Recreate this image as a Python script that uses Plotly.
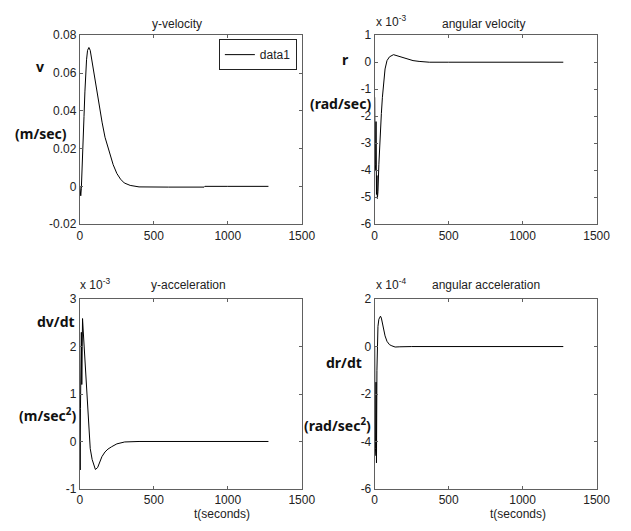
import plotly.graph_objects as go

W, H = 631, 531

# ---------------- data ----------------
# y-velocity v (m/sec)
v_t = [0, 3, 6, 10, 14, 18, 23, 28, 34, 39, 45, 52, 61, 70, 80, 92, 105, 120, 135, 150,
       170, 200, 225, 250, 275, 300, 340, 400, 450, 600, 840, 845, 1000, 1275]
v_val = [0, -0.0045, -0.005, -0.001, 0.01, 0.021, 0.03, 0.037, 0.05, 0.06, 0.067, 0.072,
         0.0735, 0.072, 0.067, 0.061, 0.055, 0.047, 0.04, 0.034, 0.026, 0.018, 0.0115,
         0.0068, 0.0038, 0.0018, 0.0005, -0.0003, -0.0004, -0.0004, -0.0004, 0.0, 0.0, 0.0]

# angular velocity r (x 10^-3 rad/sec)
r_t = [0, 3, 5, 7, 9, 12, 15, 18, 22, 28, 34, 39, 45, 52, 61, 70, 83, 100, 127, 160,
       193, 230, 259, 300, 369, 500, 1275]
r_val = [-1.3, -4.0, -1.9, -3.8, -2.2, -4.9, -4.2, -5.05, -4.8, -3.8, -3.0, -2.47, -1.9,
         -1.3, -0.66, -0.25, 0.06, 0.2, 0.28, 0.22, 0.16, 0.1, 0.06, 0.03, 0.0, 0.0, 0.0]

# y-acceleration dv/dt (x 10^-3 m/sec^2)
a_t = [0, 2, 4, 6, 8, 10, 13, 16, 18, 22, 28, 34, 39, 45, 52, 61, 70, 83, 95, 105, 120,
       135, 149, 170, 190, 215, 250, 303, 350, 400, 1275]
a_val = [0, -0.6, 0.7, 2.2, 0.8, 2.3, 1.2, 2.5, 2.59, 2.37, 2.03, 1.68, 1.39, 1.05, 0.66,
         0.16, -0.15, -0.38, -0.53, -0.59, -0.55, -0.44, -0.32, -0.22, -0.16, -0.11,
         -0.05, -0.01, 0.0, 0.0, 0.0]

# angular acceleration dr/dt (x 10^-4 rad/sec^2)
b_t = [0, 2, 4, 6, 9, 12, 15, 18, 22, 28, 34, 39, 45, 52, 61, 70, 83, 100, 116, 138, 170,
       250, 1275]
b_val = [0, -4.6, -3.2, -4.3, -1.5, -4.9, -1.0, 0.5, 0.85, 1.15, 1.25, 1.28, 1.2, 1.0, 0.7,
         0.45, 0.22, 0.08, 0.03, -0.02, -0.01, 0.0, 0.0]

x_ticks = [0, 500, 1000, 1500]
x_ticktext = ["0", "500", "1000", "1500"]
y1_ticks = [-0.02, 0, 0.02, 0.04, 0.06, 0.08]
y1_ticktext = ["-0.02", "0", "0.02", "0.04", "0.06", "0.08"]
y2_ticks = [-6, -5, -4, -3, -2, -1, 0, 1]
y2_ticktext = ["-6", "-5", "-4", "-3", "-2", "-1", "0", "1"]
y3_ticks = [-1, 0, 1, 2, 3]
y3_ticktext = ["-1", "0", "1", "2", "3"]
y4_ticks = [-6, -4, -2, 0, 2]
y4_ticktext = ["-6", "-4", "-2", "0", "2"]

titles = ["y-velocity", "angular velocity", "y-acceleration", "angular acceleration"]


def px(x):
    return x / W


def py(y):
    return 1 - y / H


fig = go.Figure()
line = dict(color="black", width=1)
fig.add_trace(go.Scatter(x=v_t, y=v_val, mode="lines", line=line, name="data1",
                         xaxis="x", yaxis="y", showlegend=True))
fig.add_trace(go.Scatter(x=r_t, y=r_val, mode="lines", line=line, xaxis="x2", yaxis="y2",
                         showlegend=False))
fig.add_trace(go.Scatter(x=a_t, y=a_val, mode="lines", line=line, xaxis="x3", yaxis="y3",
                         showlegend=False))
fig.add_trace(go.Scatter(x=b_t, y=b_val, mode="lines", line=line, xaxis="x4", yaxis="y4",
                         showlegend=False))

tickfont = dict(family="Liberation Sans, Arial", size=12, color="#222")
common = dict(showline=True, mirror="ticks", linecolor="#606060", linewidth=1,
              ticks="inside", ticklen=3, tickcolor="#606060", showgrid=False,
              zeroline=False, tickfont=tickfont, fixedrange=True)

dom_xl = [px(79), px(307)]
dom_xr = [px(382), px(610)]
dom_yt = [py(223), py(29)]
dom_yb = [py(495), py(300)]

layout = dict(
    width=W, height=H, autosize=False,
    margin=dict(l=0, r=0, t=0, b=0),
    paper_bgcolor="white", plot_bgcolor="white",
    showlegend=True,
    legend=dict(x=px(302), y=py(33), xanchor="right", yanchor="top",
                bordercolor="#222", borderwidth=1, bgcolor="white",
                font=dict(family="Liberation Sans, Arial", size=12, color="#222"),
                tracegroupgap=0, itemwidth=30),
)
xs = [("xaxis", "y", dom_xl, dom_yt), ("xaxis2", "y2", dom_xr, dom_yt),
      ("xaxis3", "y3", dom_xl, dom_yb), ("xaxis4", "y4", dom_xr, dom_yb)]
yinfo = [(y1_ticks, y1_ticktext, [-0.02, 0.08]), (y2_ticks, y2_ticktext, [-6, 1]),
         (y3_ticks, y3_ticktext, [-1, 3]), (y4_ticks, y4_ticktext, [-6, 2])]
for i, ((xname, yref, dx, dy), (yt, ytt, yr)) in enumerate(zip(xs, yinfo)):
    n = "" if i == 0 else str(i + 1)
    layout["xaxis" + n] = dict(domain=dx, anchor="y" + n, range=[0, 1500],
                               tickmode="array", tickvals=x_ticks, ticktext=x_ticktext,
                               **common)
    layout["yaxis" + n] = dict(domain=dy, anchor="x" + n, range=yr,
                               tickmode="array", tickvals=yt, ticktext=ytt, **common)
fig.update_layout(**layout)

ann = []
tfont = dict(family="Liberation Sans, Arial", size=12, color="#222")
bfont = dict(family="Noto Sans", size=14, color="#111")


def add(text, x, y, font, xanchor="center", yanchor="middle"):
    ann.append(dict(text=text, x=px(x), y=py(y), xref="paper", yref="paper",
                    showarrow=False, xanchor=xanchor, yanchor=yanchor, font=font))


# titles
add(titles[0], 179, 17, tfont)
add(titles[1], 494, 17, tfont)
add(titles[2], 191, 286, tfont)
add(titles[3], 496, 286, tfont)
# exponents
add("x 10<sup>-3</sup>", 381, 25, tfont, xanchor="left", yanchor="bottom")
add("x 10<sup>-3</sup>", 77, 295, tfont, xanchor="left", yanchor="bottom")
add("x 10<sup>-4</sup>", 381, 295, tfont, xanchor="left", yanchor="bottom")
# y labels (bold)
add("<b>v</b>", 38, 61, bfont)
add("<b>(m/sec)</b>", 39, 130, bfont)
add("<b>r</b>", 352, 54, bfont)
add("<b>(rad/sec)</b>", 347, 99, bfont)
add("<b>dv/dt</b>", 54, 323, bfont)
add("<b>(m/sec<sup>2</sup>)</b>", 46, 419, bfont)
add("<b>dr/dt</b>", 350, 365, bfont)
add("<b>(rad/sec<sup>2</sup>)</b>", 344, 429, bfont)
# x labels
add("t(seconds)", 225, 521, tfont)
add("t(seconds)", 529, 521, tfont)

fig.update_layout(annotations=ann)
fig.write_html("out.html")
